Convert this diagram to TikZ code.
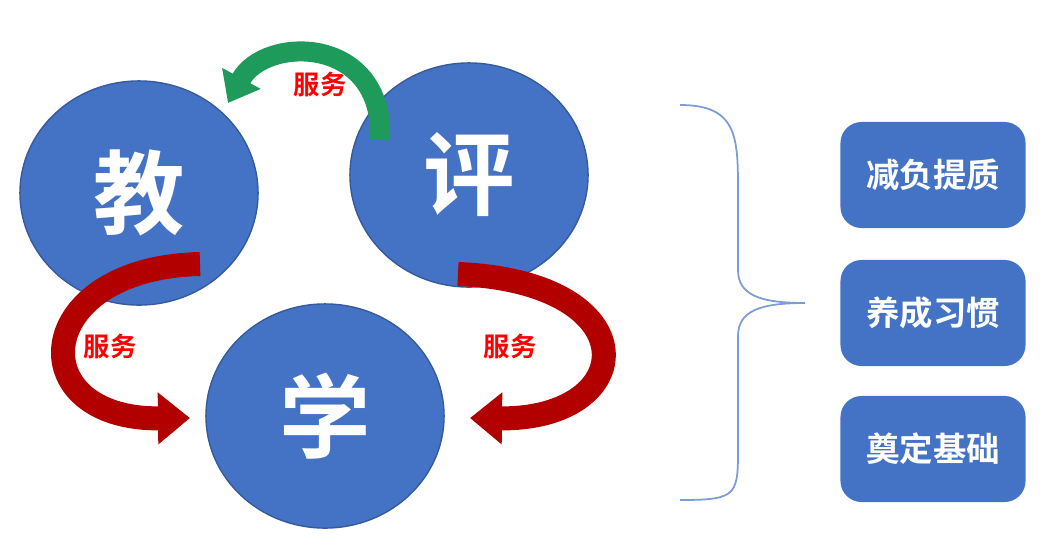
\documentclass[tikz,border=0pt]{standalone}
\usepackage{fontspec}
\newfontfamily\cjk{Noto Sans CJK SC}[BoldFont={Noto Sans CJK SC Bold}]
\usetikzlibrary{shapes.geometric,arrows.meta}
\definecolor{cblue}{HTML}{4472C4}
\definecolor{cgreen}{HTML}{1E9B5A}
\tikzset{
  big/.style={ellipse,fill=cblue,draw=cblue!80!black,minimum width=2.38cm,minimum height=2.24cm,text=white,font=\cjk\bfseries\fontsize{26}{28}\selectfont},
  box/.style={rounded corners=6pt,fill=cblue,minimum width=1.85cm,minimum height=1.06cm,text=white,font=\cjk\bfseries\fontsize{9.5}{11}\selectfont},
  lab/.style={text=red,font=\cjk\bfseries\fontsize{7.5}{9}\selectfont},
  redarr/.style={line width=0.24cm,draw=red!70!black,-{Triangle[width=0.5cm,length=0.32cm]}},
  grnarr/.style={line width=0.2cm,draw=cgreen,-{Triangle[width=0.42cm,length=0.28cm]}}
}
\begin{document}
\begin{tikzpicture}[x=0.01cm,y=-0.01cm]
\useasboundingbox (0,0) rectangle (1052,542);
\node[big] (jiao) at (139,193) {教};
\node[big] (ping) at (469,175) {评};
\node[big] (xue) at (325,416) {学};
\coordinate (g1) at (380,140);
\coordinate (g2) at (228,103);
\draw[grnarr] (g1) .. controls (385,35) and (265,35) .. (g2);
\coordinate (r1) at (200,264);
\coordinate (r2) at (190,418);
\draw[redarr] (r1) .. controls (30,268) and (20,420) .. (r2);
\coordinate (s1) at (458,274);
\coordinate (s2) at (470,418);
\draw[redarr] (s1) .. controls (650,282) and (640,420) .. (s2);
\node[lab] (l1) at (320,84) {服务};
\node[lab] (l2) at (110,346) {服务};
\node[lab] (l3) at (510,346) {服务};
\node[box] (b1) at (933,175) {减负提质};
\node[box] (b2) at (933,313) {养成习惯};
\node[box] (b3) at (933,449) {奠定基础};
\coordinate (t) at (680,105);
\coordinate (m) at (805,303);
\coordinate (b) at (680,500);
\draw[cblue!70,line width=0.5pt] (t) .. controls (740,105) and (738,140) .. (738,200) -- (738,270) .. controls (738,295) and (760,303) .. (m)
  .. controls (760,303) and (738,311) .. (738,336) -- (738,440) .. controls (738,495) and (740,500) .. (b);
\end{tikzpicture}
\end{document}
